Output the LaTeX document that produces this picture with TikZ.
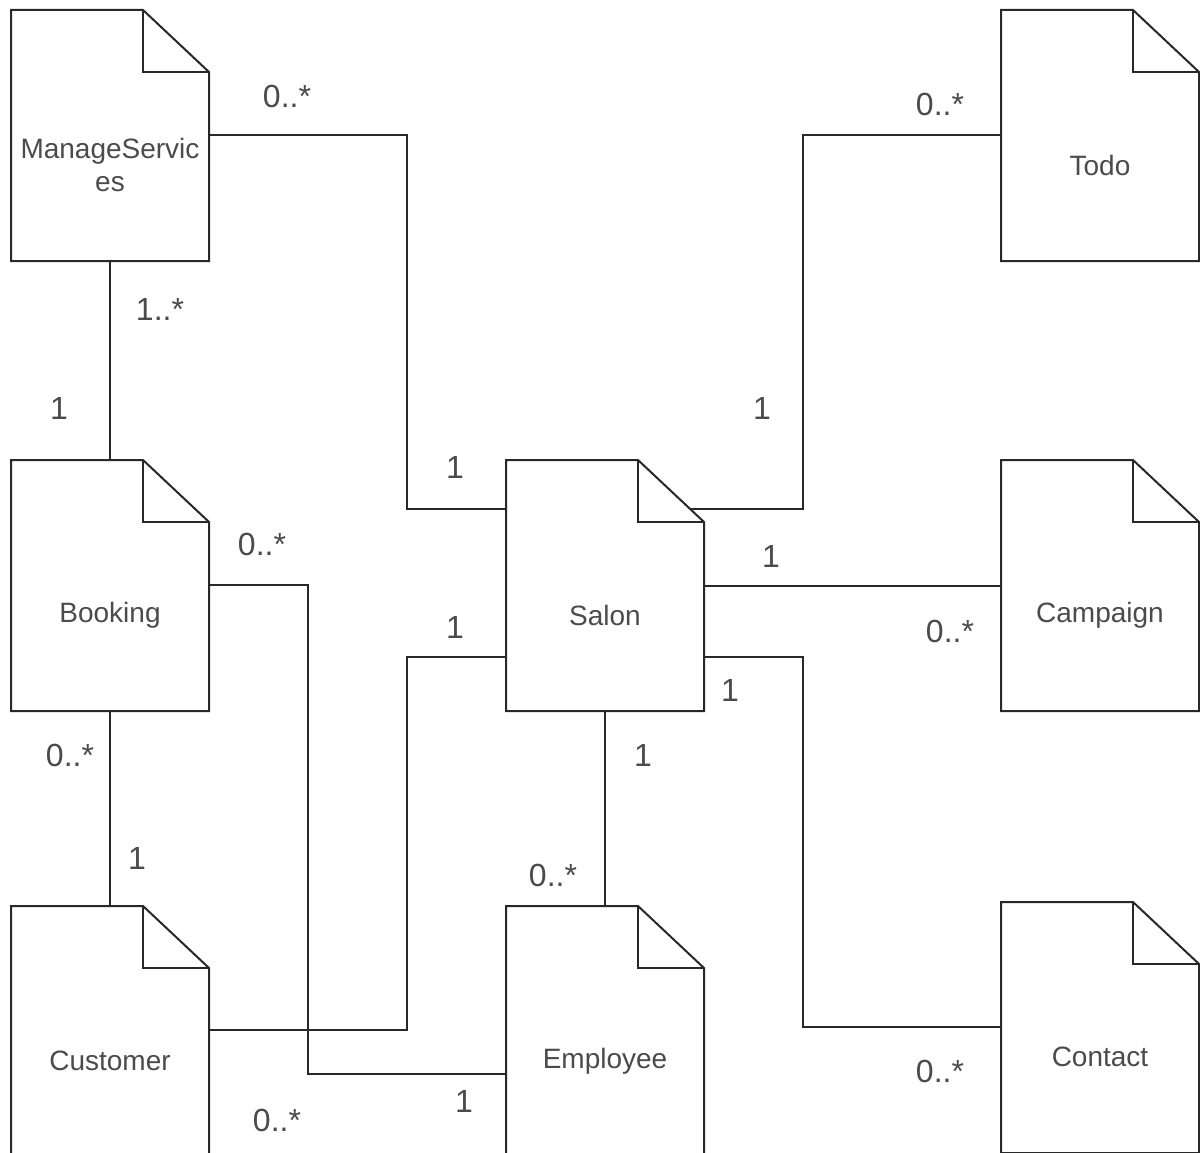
\documentclass[tikz,border=0pt]{standalone}
\usepackage{fontspec}
\setmainfont{Liberation Sans}
\usetikzlibrary{calc}
\definecolor{inkline}{RGB}{40,40,40}
\definecolor{inktext}{RGB}{75,75,75}
\tikzset{
  docline/.style={draw=inkline, line width=2pt, line join=miter},
  conn/.style={draw=inkline, line width=2pt},
  docbox/.style={rectangle, draw=none, minimum width=198pt, minimum height=250pt, inner sep=0pt},
  doctext/.style={text=inktext, font=\fontsize{28}{33}\selectfont, align=center, inner sep=0pt},
  mult/.style={text=inktext, font=\fontsize{32}{32}\selectfont, inner sep=0pt, text depth=0pt}
}
% #1 name, #2 left, #3 top, #4 text
\newcommand{\docnode}[4]{%
  \node[docbox] (#1) at (#2+99,#3+125) {};
  \draw[docline] (#2,#3) -- (#2+132,#3) -- (#2+198,#3+62) -- (#2+198,#3+251) -- (#2,#3+251) -- cycle;
  \draw[docline] (#2+132,#3) -- (#2+132,#3+62) -- (#2+198,#3+62);
  \node[doctext] (#1-t) at ([yshift=-30pt]#1.center) {#4};
}
\begin{document}
\begin{tikzpicture}[x=1pt,y=-1pt]
\useasboundingbox (0,0) rectangle (1200,1153);
\clip (0,0) rectangle (1200,1153);
\fill[white] (0,0) rectangle (1200,1153);

\docnode{ms}{11}{10}{ManageServic\\es}
\docnode{todo}{1001}{10}{Todo}
\docnode{booking}{11}{460}{Booking}
\docnode{salon}{506}{460}{Salon}
\docnode{campaign}{1001}{460}{Campaign}
\docnode{customer}{11}{906}{Customer}
\docnode{employee}{506}{906}{Employee}
\docnode{contact}{1001}{902}{Contact}

\coordinate (salonfold) at (691,509);

% connectors
\draw[conn] (ms.east) -| (407,509) -- (salon.west |- 0,509);
\draw[conn] (ms.south) -- (booking.north);
\draw[conn] (todo.west) -| (803,509) -- (salonfold);
\draw[conn] (salon.east |- 0,586) -- (campaign.west |- 0,586);
\draw[conn] (salon.east |- 0,657) -| (803,1027) -- (contact.west |- 0,1027);
\draw[conn] (salon.south) -- (employee.north);
\draw[conn] (booking.south) -- (customer.north);
\draw[conn] (booking.east) -| (308,1074) -- (employee.west |- 0,1074);
\draw[conn] (customer.east |- 0,1030) -| (407,657) -- (salon.west |- 0,657);

% multiplicities
\node[mult] (m1) at (287,96) {0..*};
\node[mult] (m2) at (455,467) {1};
\node[mult] (m3) at (160,309) {1..*};
\node[mult] (m4) at (59,408) {1};
\node[mult] (m5) at (940,104) {0..*};
\node[mult] (m6) at (762,408) {1};
\node[mult] (m7) at (771,556) {1};
\node[mult] (m8) at (950,631) {0..*};
\node[mult] (m9) at (730,690) {1};
\node[mult] (m10) at (940,1071) {0..*};
\node[mult] (m11) at (643,755) {1};
\node[mult] (m12) at (553,875) {0..*};
\node[mult] (m13) at (70,755) {0..*};
\node[mult] (m14) at (137,858) {1};
\node[mult] (m15) at (262,544) {0..*};
\node[mult] (m16) at (464,1101) {1};
\node[mult] (m17) at (455,627) {1};
\node[mult] (m18) at (277,1120) {0..*};
\end{tikzpicture}
\end{document}
